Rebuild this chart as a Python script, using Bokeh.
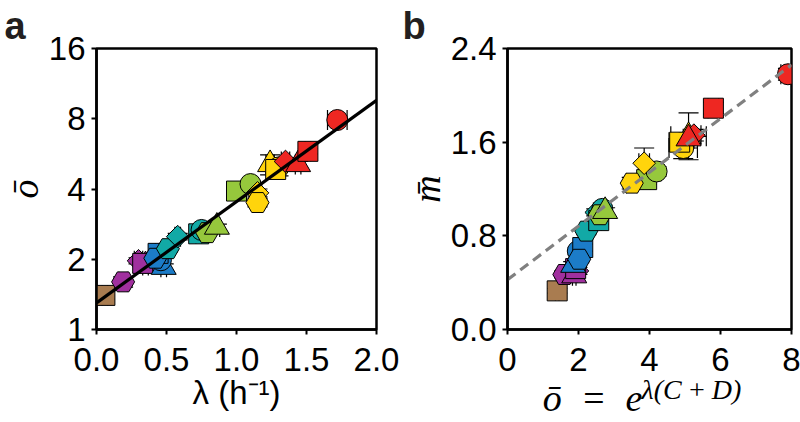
import math
from bokeh.plotting import figure
from bokeh.models import ColumnDataSource, FixedTicker, Whisker, TeeHead, Range1d, LinearAxis
from bokeh.layouts import row
from bokeh.embed import file_html
from bokeh.resources import INLINE

# ---------------- data ----------------
palette = {
    "brown": "#A97C50", "purple": "#A0309E", "blue": "#1C7CC8",
    "teal": "#12A9A6", "green": "#96C83C", "yellow": "#FFD40C", "red": "#EE2722",
}
point_color = ["brown", "purple", "purple", "purple", "purple",
               "blue", "blue", "blue", "blue",
               "teal", "teal", "teal", "teal",
               "green", "green", "green", "green",
               "yellow", "yellow", "yellow", "yellow", "yellow",
               "red", "red", "red", "red"]
point_marker = ["square", "hex", "diamond", "triangle", "square",
                "triangle", "circle", "square", "hex",
                "hex", "diamond", "square", "circle",
                "hex", "triangle", "square", "circle",
                "diamond", "hex", "triangle", "circle", "square",
                "diamond", "triangle", "square", "circle"]
lam = [0.06, 0.19, 0.30, 0.35, 0.33,
       0.48, 0.46, 0.44, 0.42,
       0.51, 0.58, 0.73, 0.75,
       0.79, 0.86, 1.00, 1.10,
       1.15, 1.15, 1.24, 1.30, 1.28,
       1.35, 1.44, 1.51, 1.72]
lam_err = [0.02, 0.03, 0.03, 0.02, 0.02,
           0.02, 0.02, 0.02, 0.03,
           0.03, 0.02, 0.02, 0.02,
           0.02, 0.02, 0.02, 0.02,
           0.03, 0.03, 0.03, 0.02, 0.02,
           0.03, 0.02, 0.02, 0.07]
obar = [1.40, 1.60, 1.97, 1.88, 1.92,
        1.85, 1.98, 2.12, 2.02,
        2.22, 2.50, 2.57, 2.67,
        2.60, 2.75, 3.92, 4.20,
        3.85, 3.50, 5.10, 4.95, 4.85,
        5.25, 5.10, 5.80, 7.90]
obar_err = [0.05, 0.08, 0.06, 0.05, 0.05,
            0.06, 0.06, 0.06, 0.06,
            0.07, 0.08, 0.07, 0.07,
            0.07, 0.08, 0.10, 0.12,
            0.15, 0.15, 0.50, 0.40, 0.30,
            0.20, 0.15, 0.15, 0.20]
mbar = [0.33, 0.47, 0.50, 0.46, 0.52,
        0.55, 0.67, 0.70, 0.60,
        0.84, 1.00, 0.93, 1.03,
        0.98, 1.01, 1.28, 1.35,
        1.42, 1.25, 1.65, 1.55, 1.60,
        1.66, 1.63, 1.89, 2.18]
mbar_err = [0.02, 0.03, 0.03, 0.03, 0.03,
            0.03, 0.03, 0.03, 0.03,
            0.03, 0.03, 0.03, 0.03,
            0.03, 0.03, 0.04, 0.04,
            0.13, 0.05, 0.20, 0.09, 0.06,
            0.05, 0.05, 0.05, 0.05]

fit_lam = [0.0, 2.0]
fit_obar = [1.3, 9.6]
pred_obar = [0.0, 8.0]
pred_mbar = [0.425, 2.26]

xticks_a = [0.0, 0.5, 1.0, 1.5, 2.0]
xtick_labels_a = ["0.0", "0.5", "1.0", "1.5", "2.0"]
yticks_a = [1, 2, 4, 8, 16]
ytick_labels_a = ["1", "2", "4", "8", "16"]
xticks_b = [0, 2, 4, 6, 8]
xtick_labels_b = ["0", "2", "4", "6", "8"]
yticks_b = [0.0, 0.8, 1.6, 2.4]
ytick_labels_b = ["0.0", "0.8", "1.6", "2.4"]

# ---------------- styling helpers ----------------
base_size = {"square": 20, "circle": 21, "triangle": 25, "hex": 23, "diamond": 16}
shape = {"square": "square", "circle": "circle", "triangle": "triangle",
         "hex": "hex", "diamond": "square"}
rot = {"square": 0.0, "circle": 0.0, "triangle": 0.0, "hex": 0.0, "diamond": math.pi / 4}

src = ColumnDataSource(dict(
    lam=lam, obar=obar, mbar=mbar,
    lam_lo=[a - e for a, e in zip(lam, lam_err)],
    lam_hi=[a + e for a, e in zip(lam, lam_err)],
    o_lo=[a - e for a, e in zip(obar, obar_err)],
    o_hi=[a + e for a, e in zip(obar, obar_err)],
    m_lo=[a - e for a, e in zip(mbar, mbar_err)],
    m_hi=[a + e for a, e in zip(mbar, mbar_err)],
    color=[palette[c] for c in point_color],
    marker=[shape[m] for m in point_marker],
    size=[base_size[m] for m in point_marker],
    angle=[rot[m] for m in point_marker],
))

TICK_FONT = "Liberation Sans"
MATH_FONT = "Liberation Serif"
NBSP = "\u00a0"
THIN = "\u2009"


def style(p, letter, letter_offset):
    p.outline_line_color = "black"
    p.outline_line_width = 2.5
    p.outline_line_alpha = 1.0
    p.grid.visible = False
    p.background_fill_color = "white"
    p.border_fill_color = "white"
    for ax in p.axis:
        ax.axis_line_width = 2.5
        ax.axis_line_color = "black"
        ax.major_tick_line_width = 2
        ax.major_tick_line_color = "black"
        ax.major_tick_out = 5
        ax.major_tick_in = 0
        ax.minor_tick_line_color = None
        ax.major_label_text_font = TICK_FONT
        ax.major_label_text_font_size = "33px"
        ax.major_label_text_color = "black"
        ax.major_label_standoff = 6
        ax.axis_label_text_color = "black"
    p.xaxis.major_label_standoff = 13
    p.yaxis.axis_label_text_font = MATH_FONT
    p.yaxis.axis_label_text_font_style = "italic"
    p.yaxis.axis_label_text_font_size = "38px"
    p.yaxis.axis_label_standoff = 0
    p.title.text = letter
    p.title.text_font = "Liberation Sans"
    p.title.text_font_style = "bold"
    p.title.text_font_size = "38px"
    p.title.text_color = "#231F20"
    p.title.align = "left"
    p.title.offset = letter_offset
    p.title.standoff = 4


def ticks(axis, values, labels):
    axis.ticker = FixedTicker(ticks=values)
    axis.major_label_overrides = {v: s for v, s in zip(values, labels)}


def whiskers(p, xcol, ycol, xlo, xhi, ylo, yhi):
    for base, lo, hi, dim in ((xcol, ylo, yhi, "height"), (ycol, xlo, xhi, "width")):
        w = Whisker(source=src, base=base, lower=lo, upper=hi, dimension=dim,
                    line_color="black", line_width=1.2, level="underlay",
                    upper_head=TeeHead(size=20, line_width=1.2, line_color="black"),
                    lower_head=TeeHead(size=20, line_width=1.2, line_color="black"))
        p.add_layout(w)


# ---------------- panel a ----------------
pa = figure(width=400, height=422, y_axis_type="log",
            x_range=Range1d(0, 2.0), y_range=Range1d(1, 16),
            min_border_left=92, min_border_right=24, min_border_top=47, min_border_bottom=93,
            output_backend="svg", toolbar_location=None)
style(pa, "a", -92)
ticks(pa.xaxis[0], xticks_a, xtick_labels_a)
ticks(pa.yaxis[0], yticks_a, ytick_labels_a)
pa.yaxis.axis_label = "ō"
pa.xaxis.axis_label = "λ (h⁻¹)"
pa.xaxis.axis_label_text_font = TICK_FONT
pa.xaxis.axis_label_text_font_style = "normal"
pa.xaxis.axis_label_text_font_size = "33px"
pa.xaxis.axis_label_standoff = 0

whiskers(pa, "lam", "obar", "lam_lo", "lam_hi", "o_lo", "o_hi")
pa.scatter("lam", "obar", source=src, marker="marker", size="size", angle="angle",
           fill_color="color", line_color="black", line_width=1.0)
pa.line(fit_lam, fit_obar, line_color="black", line_width=3.2)

# ---------------- panel b ----------------
pb = figure(width=400, height=422,
            x_range=Range1d(0, 8), y_range=Range1d(0, 2.4),
            min_border_left=107, min_border_right=9, min_border_top=47, min_border_bottom=93,
            output_backend="svg", toolbar_location=None)
style(pb, "b", -105)
ticks(pb.xaxis[0], xticks_b, xtick_labels_b)
ticks(pb.yaxis[0], yticks_b, ytick_labels_b)
pb.yaxis.axis_label = "m\u0304"

# x label  ō = e^{λ(C+D)} : exponent on the tick axis, base on an extra label-only axis
pb.xaxis.axis_label = NBSP * 12 + "λ(C" + THIN + "+" + THIN + "D)"
pb.xaxis.axis_label_text_font = MATH_FONT
pb.xaxis.axis_label_text_font_style = "italic"
pb.xaxis.axis_label_text_font_size = "28px"
pb.xaxis.axis_label_standoff = 0
base_axis = LinearAxis(ticker=FixedTicker(ticks=[]), axis_line_color=None,
                       major_tick_out=0, major_tick_in=0, minor_tick_out=0, minor_tick_in=0,
                       major_label_standoff=0, major_label_text_font_size="0px",
                       axis_label="ō\u2002=\u2002e" + NBSP * 12,
                       axis_label_text_font=MATH_FONT, axis_label_text_font_style="italic",
                       axis_label_text_font_size="38px", axis_label_text_color="black",
                       axis_label_standoff=-31)
pb.add_layout(base_axis, "below")

whiskers(pb, "obar", "mbar", "o_lo", "o_hi", "m_lo", "m_hi")
pb.scatter("obar", "mbar", source=src, marker="marker", size="size", angle="angle",
           fill_color="color", line_color="black", line_width=1.0)
pb.line(pred_obar, pred_mbar, line_color="#808080", line_width=3.2, line_dash="10 6")

layout = row(pa, pb)
open("out.html", "w").write(file_html(layout, INLINE))
